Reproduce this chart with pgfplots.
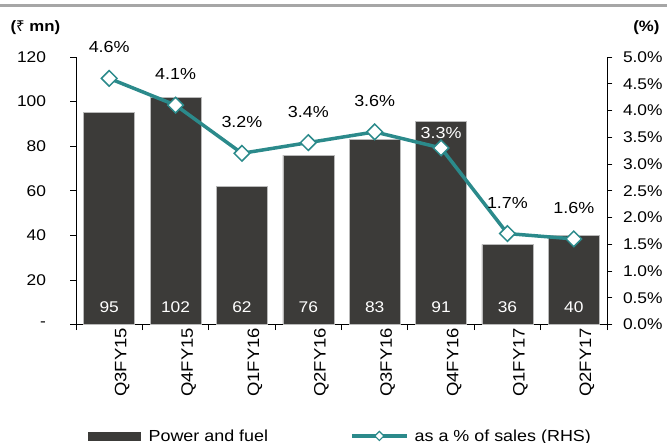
\documentclass[border=0pt]{standalone}
\usepackage{fontspec}
\setmainfont{Liberation Sans}[FakeStretch=1.12]
\newfontfamily\rupfont{Noto Sans}
\usepackage{pgfplots}
\pgfplotsset{compat=1.18}
\definecolor{barc}{HTML}{3C3B39}
\definecolor{linec}{HTML}{2B8A8B}
\begin{document}
\begin{tikzpicture}[font=\fontsize{15.5bp}{17bp}\selectfont]
\useasboundingbox (-76bp,-118.5bp) rectangle (591bp,324.5bp);
% header
\draw[gray!70, line width=3bp] (-76bp,318.7bp) -- (591bp,318.7bp);
\node[anchor=west, font=\fontsize{15bp}{17bp}\selectfont\bfseries] at (-69bp,297bp) {({\rupfont\bfseries ₹} mn)};
\node[anchor=east, font=\fontsize{15bp}{17bp}\selectfont\bfseries] at (587bp,297bp) {(\%)};

\begin{axis}[
  scale only axis, width=531bp, height=267.5bp,
  xmin=-0.5, xmax=7.5, ymin=0, ymax=120,
  axis y line*=left, axis x line*=bottom,
  axis line style={black, line width=0.8bp},
  tick align=outside, major tick length=5.5bp,
  tick style={black, line width=0.8bp},
  ytick={0,20,...,120}, yticklabels={-,20,40,60,80,100,120},
  xtick={-0.5,0.5,...,7.5}, xticklabels={{},{},{},{},{},{},{},{},{}},
  extra x ticks={0,...,7},
  extra x tick labels={Q3FY15,Q4FY15,Q1FY16,Q2FY16,Q3FY16,Q4FY16,Q1FY17,Q2FY17},
  extra x tick style={major tick length=0pt,
    tick label style={rotate=90, anchor=east, yshift=-13bp, font=\fontsize{16.5bp}{18bp}\selectfont}},
  tick label style={font=\fontsize{15.5bp}{17bp}\selectfont},
  yticklabel style={xshift=-21bp},
  /pgf/number format/assume math mode=true,
]
\addplot[ybar, bar width=51bp, fill=barc, draw=gray!55, line width=0.6bp]
  coordinates {(0,95) (1,102) (2,62) (3,76) (4,83) (5,91) (6,36) (7,40)};
\addplot[draw=none, mark=none, nodes near coords, point meta=explicit symbolic,
  every node near coord/.style={anchor=center, text=white, font=\fontsize{15.5bp}{17bp}\selectfont}]
  coordinates {(0,7.8)[95] (1,7.8)[102] (2,7.8)[62] (3,7.8)[76] (4,7.8)[83] (5,7.8)[91] (6,7.8)[36] (7,7.8)[40]};
\end{axis}

\begin{axis}[
  scale only axis, width=531bp, height=267.5bp,
  xmin=-0.5, xmax=7.5, ymin=0, ymax=5,
  axis y line*=right, axis x line=none,
  axis line style={black, line width=0.8bp},
  tick align=outside, major tick length=5.5bp,
  tick style={black, line width=0.8bp},
  ytick={0,0.5,...,5},
  yticklabel={\pgfmathprintnumber[fixed,fixed zerofill,precision=1]{\tick}\%},
  yticklabel style={font=\fontsize{15.5bp}{17bp}\selectfont, xshift=7bp},
  /pgf/number format/assume math mode=true,
  legend columns=2,
  legend style={draw=none, fill=none, inner sep=0pt, anchor=west,
    at={(axis description cs:0.0226,-0.4168)},
    font=\fontsize{16bp}{18bp}\selectfont,
    /tikz/column 1/.style={column sep=6bp},
    /tikz/column 2/.style={column sep=80bp},
    /tikz/column 3/.style={column sep=4bp}},
]
\addlegendimage{legend image code/.code={\fill[barc] (0bp,-4bp) rectangle (52bp,4bp);}}
\addlegendentry{Power and fuel}
\addplot[linec, line width=3.5bp, mark=square*,
  mark options={rotate=45, fill=white, draw=linec, line width=1.5bp, mark size=5.5bp},
  nodes near coords, point meta=explicit symbolic,
  every node near coord/.style={anchor=center, yshift=31bp, text=black, font=\fontsize{16bp}{18bp}\selectfont},
  legend image code/.code={\draw[linec, line width=3.5bp, mark=square*, mark repeat=2, mark phase=2,
     mark options={rotate=45, fill=white, draw=linec, mark size=3.2bp, line width=1.2bp}]
     plot coordinates {(0bp,0bp) (27.5bp,0bp) (55bp,0bp)};}]
  coordinates {(0,4.6)[4.6\%] (1,4.1)[4.1\%] (2,3.2)[3.2\%] (3,3.4)[3.4\%] (4,3.6)[3.6\%] (5,3.3)[] (6,1.7)[1.7\%] (7,1.6)[1.6\%]};
\addlegendentry{as a \% of sales (RHS)}
\addplot[draw=none, mark=none, forget plot, nodes near coords, point meta=explicit symbolic,
  every node near coord/.style={anchor=center, yshift=15bp, text=white, font=\fontsize{16bp}{18bp}\selectfont}]
  coordinates {(5,3.3)[3.3\%]};
\end{axis}
\end{tikzpicture}
\end{document}
